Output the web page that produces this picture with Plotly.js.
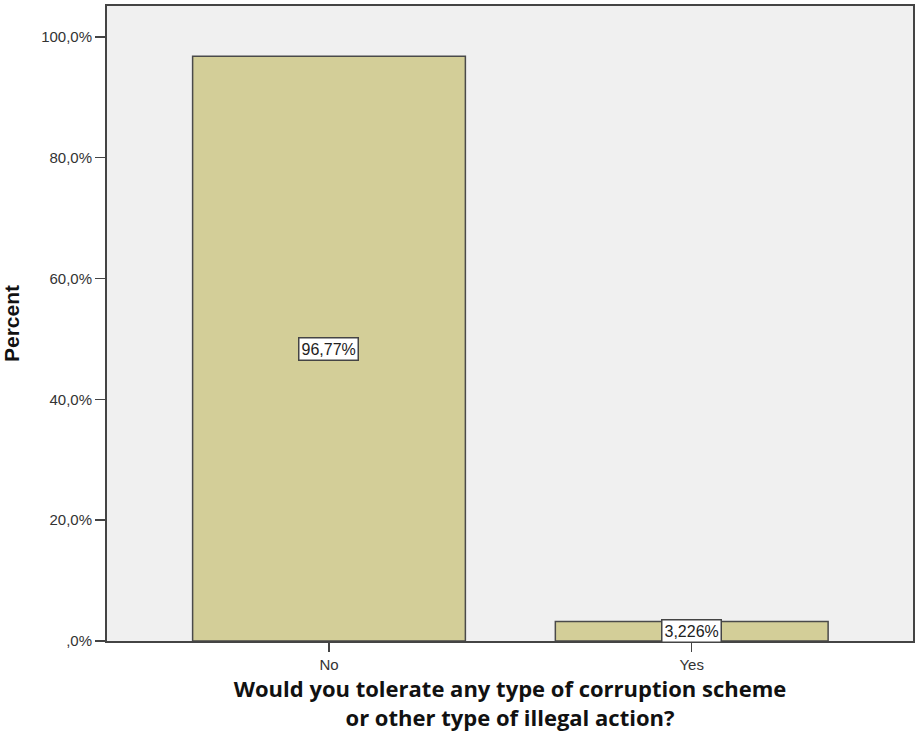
<!DOCTYPE html>
<html>
<head>
<meta charset="utf-8">
<script src="https://cdn.plot.ly/plotly-3.0.1.min.js"></script>
<style>html,body{margin:0;padding:0;background:#fff;}#chart{width:915px;height:733px;}</style>
</head>
<body>
<div id="chart"></div>
<script>
const categories = ["No", "Yes"];
const percentValues = [96.77, 3.226];
const barLabels = ["96,77%", "3,226%"];
const tickValues = [0, 20, 40, 60, 80, 100];
const tickLabels = [",0%", "20,0%", "40,0%", "60,0%", "80,0%", "100,0%"];

const trace = {
  type: "bar",
  x: categories,
  y: percentValues,
  width: 0.752,
  marker: { color: "#d3ce98", line: { color: "#4a4a4a", width: 1.5 } },
  hoverinfo: "skip"
};

const annotations = categories.map((c, i) => ({
  x: c, y: percentValues[i] / 2, xref: "x", yref: "y",
  text: barLabels[i], showarrow: false,
  font: { family: "Liberation Sans, Arial, sans-serif", size: 16, color: "#222" },
  bgcolor: "#ffffff", bordercolor: "#444", borderwidth: 1.5, borderpad: 2
}));

const layout = {
  width: 915, height: 733,
  margin: { l: 107, r: 2, t: 6, b: 92 },
  paper_bgcolor: "#ffffff",
  plot_bgcolor: "#f0f0f0",
  showlegend: false,
  bargap: 0,
  xaxis: {
    range: [-0.612, 1.61],
    showline: true, linecolor: "#444", linewidth: 2, mirror: true,
    showgrid: false, zeroline: false,
    ticks: "outside", ticklen: 9, tickcolor: "#444", tickwidth: 1.5,
    tickfont: { family: "Liberation Sans, Arial, sans-serif", size: 15, color: "#333" },
    title: {
      text: "<b>Would you tolerate any type of corruption scheme<br>or other type of illegal action?</b>",
      font: { family: "Open Sans, sans-serif", size: 22, color: "#111" },
      standoff: 4
    }
  },
  yaxis: {
    range: [0, 105.1],
    tickvals: tickValues, ticktext: tickLabels,
    showline: true, linecolor: "#444", linewidth: 2, mirror: true,
    showgrid: false, zeroline: false,
    ticks: "outside", ticklen: 10, tickcolor: "#444", tickwidth: 1.5,
    tickfont: { family: "Liberation Sans, Arial, sans-serif", size: 15, color: "#333" },
    title: {
      text: "<b>Percent</b>",
      font: { family: "Liberation Sans, Arial, sans-serif", size: 21, color: "#111" },
      standoff: 20
    }
  },
  annotations: annotations
};

Plotly.newPlot("chart", [trace], layout, { displayModeBar: false, staticPlot: true });
</script>
</body>
</html>
